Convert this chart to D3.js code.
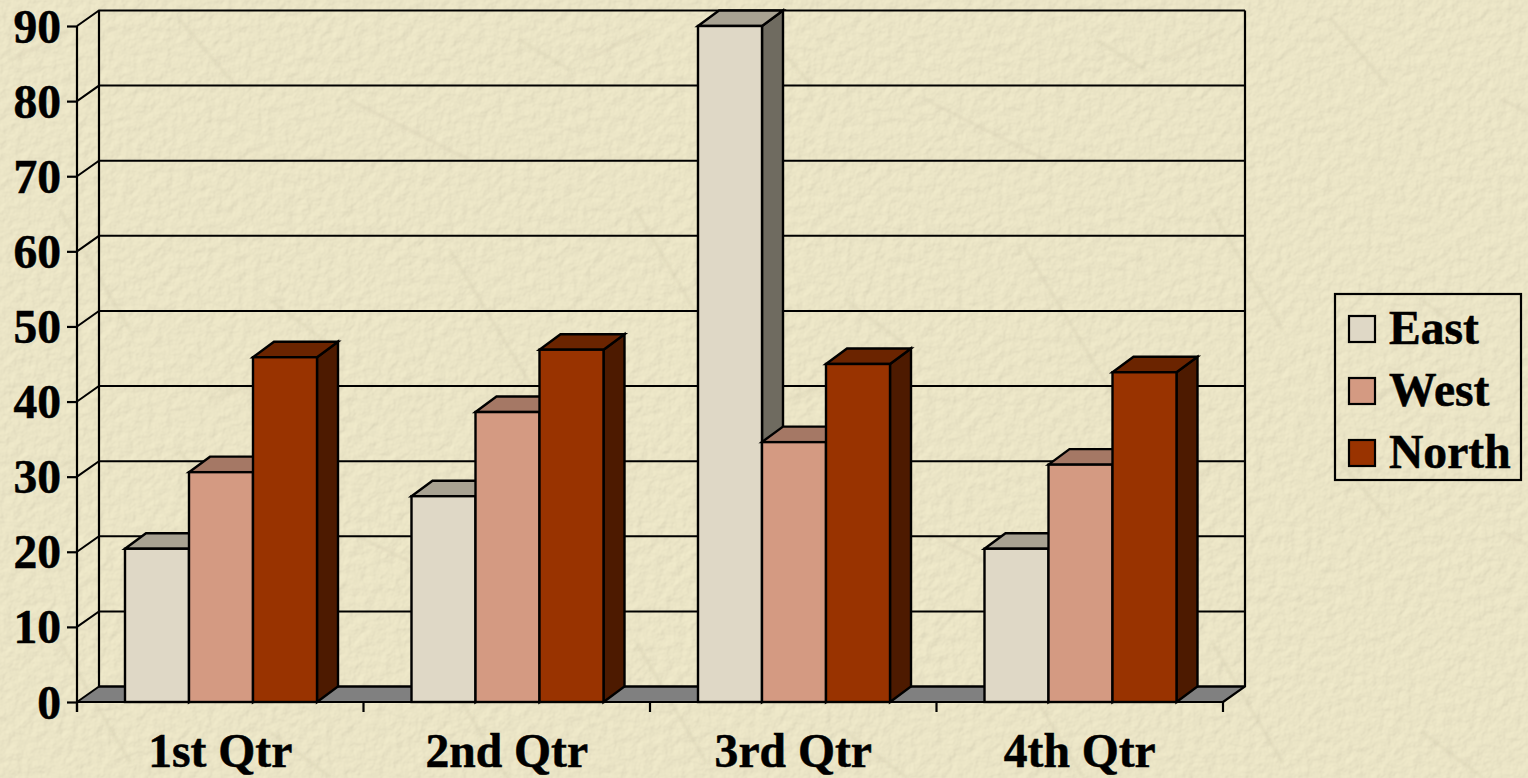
<!DOCTYPE html>
<html>
<head>
<meta charset="utf-8">
<title>Qtr chart</title>
<script src="https://cdn.jsdelivr.net/npm/d3@7"></script>
<style>
  html, body { margin: 0; padding: 0; background: #e8e2c4; overflow: hidden; }
  text { font-family: "Liberation Serif", "Times New Roman", serif; font-weight: bold; fill: #000; stroke: #000; stroke-width: 0.5px; }
</style>
</head>
<body>
<div id="chart"></div>
<script>
const categories = ['1st Qtr', '2nd Qtr', '3rd Qtr', '4th Qtr'];
const seriesNames = ['East', 'West', 'North'];
const east = [20.4, 27.4, 90, 20.4];
const west = [30.6, 38.6, 34.6, 31.6];
const north = [45.9, 46.9, 45, 43.9];
const yTicks = [0, 10, 20, 30, 40, 50, 60, 70, 80, 90];

const faceColors = ['#dfd8c6', '#d49a82', '#993300'];
const topColors = ['#a8a292', '#a57865', '#6b2400'];
const sideColors = ['#6f6b60', '#6f5044', '#4d1a00'];

const width = 1528, height = 778;
const plotLeft = 77, plotRight = 1223, plotBottom = 702, plotTop = 26;
// how far the back wall sits behind the front of the chart
const depthX = 22, depthY = -15.5;
const barDepthX = 21;
const fontSize = 47.6;

const values = [east, west, north];

const svg = d3.select('#chart').append('svg')
  .attr('width', width)
  .attr('height', height)
  .attr('viewBox', [0, 0, width, height])
  .style('display', 'block');

// paper background: lit noise plus some faint scratches
const defs = svg.append('defs');
const paper = defs.append('filter').attr('id', 'paper')
  .attr('x', 0).attr('y', 0).attr('width', '100%').attr('height', '100%');
paper.append('feTurbulence')
  .attr('type', 'fractalNoise').attr('baseFrequency', 0.1)
  .attr('numOctaves', 3).attr('seed', 7).attr('result', 'noise');
paper.append('feDiffuseLighting')
  .attr('in', 'noise').attr('surfaceScale', 0.8).attr('diffuseConstant', 1.09)
  .attr('lighting-color', '#e9e3c5')
  .append('feDistantLight').attr('azimuth', 225).attr('elevation', 68);

defs.append('filter').attr('id', 'soft')
  .append('feGaussianBlur').attr('stdDeviation', 1.8);

const scratchTile = defs.append('pattern').attr('id', 'scratches')
  .attr('patternUnits', 'userSpaceOnUse').attr('width', 576).attr('height', 432);
scratchTile.append('path')
  .attr('d', 'M180 20 L235 85 M350 100 L470 160 M60 210 L130 330 M450 250 L540 400 M270 300 L330 345 M10 60 L70 30 M520 40 L570 70 M210 400 L300 370')
  .attr('fill', 'none').attr('stroke', '#d4ceb0').attr('stroke-width', 3)
  .attr('stroke-linecap', 'round').attr('opacity', 0.45).attr('filter', 'url(#soft)');

svg.append('rect').attr('width', width).attr('height', height)
  .attr('fill', '#e8e2c4').attr('filter', 'url(#paper)');
svg.append('rect').attr('width', width).attr('height', height)
  .attr('fill', 'url(#scratches)');

// scales
const x = d3.scaleBand().domain(categories).range([plotLeft, plotRight]);
const inner = d3.scaleBand().domain(seriesNames).range([48, 240]);
const y = d3.scaleLinear().domain([0, 90]).range([plotBottom, plotTop]);
const tickX = d3.scaleLinear().domain([0, categories.length]).range([plotLeft, plotRight]);

// floor
svg.append('path')
  .attr('d', d3.line()([[plotLeft, plotBottom], [plotLeft + depthX, plotBottom + depthY], [plotRight + depthX, plotBottom + depthY], [plotRight, plotBottom]]) + 'Z')
  .attr('fill', '#808080');
svg.append('line')
  .attr('x1', plotLeft + depthX).attr('x2', plotRight + depthX)
  .attr('y1', plotBottom + depthY).attr('y2', plotBottom + depthY)
  .attr('stroke', '#000').attr('stroke-width', 2.5);

// gridlines on the back wall and their diagonals on the side wall
const grid = svg.append('g').attr('stroke', '#000').attr('stroke-width', 2).attr('fill', 'none');
grid.selectAll('path.gridline')
  .data(yTicks.filter(d => d > 0))
  .join('path')
  .attr('class', 'gridline')
  .attr('d', d => d3.line()([[plotLeft, y(d)], [plotLeft + depthX, y(d) + depthY], [plotRight + depthX, y(d) + depthY]]));
grid.append('path')
  .attr('d', d3.line()([[plotLeft, plotBottom], [plotLeft + depthX, plotBottom + depthY]]));
grid.append('path')
  .attr('stroke-width', 2.2)
  .attr('d', d3.line()([[plotLeft + depthX, y(90) + depthY], [plotLeft + depthX, plotBottom + depthY]]));
grid.append('path')
  .attr('stroke-width', 2.2)
  .attr('d', d3.line()([[plotRight + depthX, y(90) + depthY], [plotRight + depthX, plotBottom + depthY], [plotRight, plotBottom]]));

// bars, drawn left to right so each face covers the side of the one before
const bars = svg.append('g').attr('stroke', '#000').attr('stroke-width', 2.4).attr('stroke-linejoin', 'miter');
categories.forEach((cat, c) => {
  seriesNames.forEach((name, s) => {
    const x0 = x(cat) + inner(name), x1 = x0 + inner.bandwidth();
    const y0 = y(values[s][c]);
    const g = bars.append('g');
    g.append('path').attr('fill', sideColors[s])
      .attr('d', d3.line()([[x1, y0], [x1 + barDepthX, y0 + depthY], [x1 + barDepthX, plotBottom + depthY], [x1, plotBottom]]) + 'Z');
    g.append('path').attr('fill', topColors[s])
      .attr('d', d3.line()([[x0, y0], [x0 + barDepthX, y0 + depthY], [x1 + barDepthX, y0 + depthY], [x1, y0]]) + 'Z');
    g.append('rect').attr('fill', faceColors[s])
      .attr('x', x0).attr('y', y0).attr('width', x1 - x0).attr('height', plotBottom - y0);
  });
});

// value axis
const yAxis = svg.append('g')
  .attr('transform', `translate(${plotLeft},0)`)
  .call(d3.axisLeft(y).tickValues(yTicks).tickSize(10).tickPadding(6).tickFormat(d3.format('d')));
yAxis.select('.domain').remove();
yAxis.selectAll('line').attr('stroke', '#000').attr('stroke-width', 2.2);
yAxis.selectAll('text').attr('font-size', fontSize).attr('dy', 16);
svg.append('line')
  .attr('x1', plotLeft).attr('x2', plotLeft).attr('y1', y(90)).attr('y2', plotBottom + 10)
  .attr('stroke', '#000').attr('stroke-width', 2.2);

// category axis, ticks fall between the categories
svg.append('line')
  .attr('x1', plotLeft).attr('x2', plotRight).attr('y1', plotBottom).attr('y2', plotBottom)
  .attr('stroke', '#000').attr('stroke-width', 2.2);
svg.append('g').selectAll('line')
  .data(d3.range(categories.length + 1))
  .join('line')
  .attr('x1', d => tickX(d)).attr('x2', d => tickX(d))
  .attr('y1', plotBottom).attr('y2', plotBottom + 10)
  .attr('stroke', '#000').attr('stroke-width', 2.2);
svg.append('g').selectAll('text')
  .data(categories)
  .join('text')
  .attr('x', d => x(d) + x.bandwidth() / 2)
  .attr('y', 767)
  .attr('text-anchor', 'middle')
  .attr('font-size', fontSize)
  .text(d => d);

// legend
const legend = svg.append('g');
legend.append('rect')
  .attr('x', 1335).attr('y', 294).attr('width', 186).attr('height', 186)
  .attr('fill', 'none').attr('stroke', '#000').attr('stroke-width', 2.2);
const legendY = d3.scalePoint().domain(seriesNames).range([329, 453]);
const legendRow = legend.selectAll('g')
  .data(seriesNames)
  .join('g')
  .attr('transform', d => `translate(1349,${legendY(d)})`);
legendRow.append('rect')
  .attr('y', -13).attr('width', 26).attr('height', 26)
  .attr('fill', (d, i) => faceColors[i])
  .attr('stroke', '#000').attr('stroke-width', 2.2);
legendRow.append('text')
  .attr('x', 40).attr('y', 15)
  .attr('font-size', fontSize)
  .text(d => d);
</script>
</body>
</html>
